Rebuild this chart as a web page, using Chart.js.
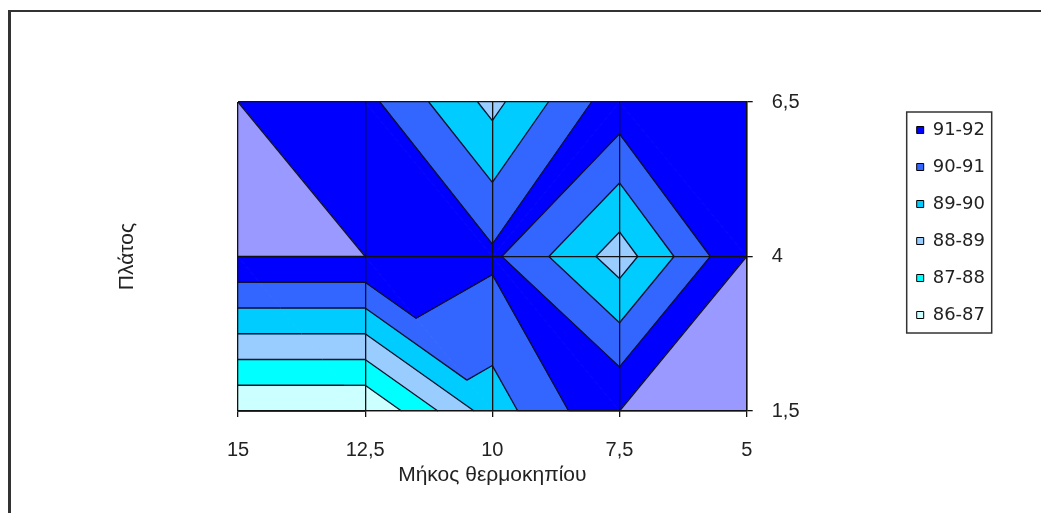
<!DOCTYPE html>
<html>
<head>
<meta charset="utf-8">
<script src="https://cdn.jsdelivr.net/npm/chart.js@4.4.0/dist/chart.umd.min.js"></script>
<style>
  html, body { margin: 0; padding: 0; background: #fff; }
  #wrap { position: relative; width: 1041px; height: 513px; overflow: hidden; }
  #wrap canvas { position: absolute; left: 0; top: 0; }
  #frame { position: absolute; left: 8px; top: 10px; width: 1100px; height: 600px;
           border-left: 3px solid #333; border-top: 2px solid #333; pointer-events: none; }
</style>
</head>
<body>
<div id="wrap">
  <canvas id="contourChart" width="1041" height="513"></canvas>
  <div id="frame"></div>
</div>
<script>
// grid of the surface: Μήκος θερμοκηπίου (x) and Πλάτος (y)
const xValues = [15, 12.5, 10, 7.5, 5];
const yValues = [1.5, 4, 6.5];
// values per row, columns follow xValues
const zAt15 = [86, 86, 89.5, 92, 92];
const zAt40 = [92, 92, 91.2, 88.5, 92];
const zAt65 = [92, 91.3, 88.7, 91.65, 91.8];

// contour bands 86-87 ... 92-93
const levels = [86, 87, 88, 89, 90, 91, 92, 93];
const bandColors = ['#ccffff', '#00ffff', '#99ccff', '#00ccff', '#3366ff', '#0000ff', '#9999ff'];
const legendLabels = ['91-92', '90-91', '89-90', '88-89', '87-88', '86-87'];

const tickFont = { family: "'Liberation Sans Narrow', 'Liberation Sans', Arial, sans-serif", size: 20 };
const titleFont = { family: "'Liberation Sans', Arial, sans-serif", size: 21 };
const legendFont = { family: "'DejaVu Sans', 'Liberation Sans', sans-serif", size: 18 };

function buildTriangles() {
  const rows = [zAt15, zAt40, zAt65];
  const P = (i, j) => [xValues[i], yValues[j], rows[j][i]];
  const tris = [];
  for (let j = 0; j < yValues.length - 1; j++) {
    for (let i = 0; i < xValues.length - 1; i++) {
      const bl = P(i, j), br = P(i + 1, j), tl = P(i, j + 1), tr = P(i + 1, j + 1);
      // split along the diagonal with the higher mean
      if (tl[2] + br[2] >= tr[2] + bl[2]) {
        tris.push([tl, tr, br], [tl, br, bl]);
      } else {
        tris.push([tl, tr, bl], [tr, br, bl]);
      }
    }
  }
  return tris;
}

// keep the part of poly where dir*(z-L) >= 0
function clip(poly, L, dir) {
  const out = [];
  for (let i = 0; i < poly.length; i++) {
    const a = poly[i], b = poly[(i + 1) % poly.length];
    const da = dir * (a[2] - L), db = dir * (b[2] - L);
    if (da >= 0) out.push(a);
    if ((da > 0 && db < 0) || (da < 0 && db > 0)) {
      const t = (L - a[2]) / (b[2] - a[2]);
      out.push([a[0] + t * (b[0] - a[0]), a[1] + t * (b[1] - a[1]), L]);
    }
  }
  return out;
}

function levelSegment(t, L) {
  const pts = [];
  for (let k = 0; k < 3; k++) {
    const a = t[k], b = t[(k + 1) % 3];
    if (a[2] === L) {
      pts.push(a);
    } else if ((a[2] - L) * (b[2] - L) < 0) {
      const s = (L - a[2]) / (b[2] - a[2]);
      pts.push([a[0] + s * (b[0] - a[0]), a[1] + s * (b[1] - a[1])]);
    }
  }
  return pts.length === 2 ? pts : null;
}

const contourPlugin = {
  id: 'contour',
  beforeDatasetsDraw(chart) {
    const { ctx, scales: { x, y } } = chart;
    const px = p => [x.getPixelForValue(p[0]), y.getPixelForValue(p[1])];
    const tris = buildTriangles();
    ctx.save();
    for (let b = 0; b < levels.length - 1; b++) {
      ctx.fillStyle = bandColors[b];
      ctx.strokeStyle = bandColors[b];
      ctx.lineWidth = 1;
      tris.forEach(t => {
        const poly = clip(clip(t, levels[b], 1), levels[b + 1], -1).map(px);
        if (poly.length < 3) return;
        let area = 0;
        poly.forEach((p, i) => {
          const q = poly[(i + 1) % poly.length];
          area += p[0] * q[1] - q[0] * p[1];
        });
        if (Math.abs(area) < 1) return;
        ctx.beginPath();
        poly.forEach((p, i) => i ? ctx.lineTo(p[0], p[1]) : ctx.moveTo(p[0], p[1]));
        ctx.closePath();
        ctx.fill();
        ctx.stroke();
      });
    }
    // contour lines
    ctx.strokeStyle = '#10102a';
    ctx.lineWidth = 1.3;
    levels.forEach(L => {
      tris.forEach(t => {
        const seg = levelSegment(t, L);
        if (!seg) return;
        const a = px(seg[0]), b = px(seg[1]);
        ctx.beginPath();
        ctx.moveTo(a[0], a[1]);
        ctx.lineTo(b[0], b[1]);
        ctx.stroke();
      });
    });
    ctx.restore();
  },
  afterDraw(chart) {
    const hb = chart.legend.legendHitBoxes;
    if (!hb || !hb.length) return;
    const last = hb[hb.length - 1];
    const left = hb[0].left - 10;
    const top = hb[0].top - 9;
    const bottom = last.top + last.height + 9;
    const ctx = chart.ctx;
    ctx.save();
    ctx.strokeStyle = '#333';
    ctx.lineWidth = 1.5;
    ctx.strokeRect(left, top, 85, bottom - top);
    ctx.restore();
  }
};

const ctxContour = document.getElementById('contourChart').getContext('2d');
const contourChart = new Chart(ctxContour, {
  type: 'scatter',
  data: {
    datasets: legendLabels.map((label, i) => ({
      label: label,
      data: [],
      backgroundColor: bandColors[legendLabels.length - 1 - i],
      borderColor: '#000',
      borderWidth: 1,
      xAxisID: 'x',
      yAxisID: 'y'
    }))
  },
  options: {
    responsive: false,
    animation: false,
    events: [],
    layout: { padding: { top: 102, left: 111, right: 46, bottom: 0 } },
    plugins: {
      tooltip: { enabled: false },
      legend: {
        position: 'right',
        align: 'start',
        labels: { boxWidth: 7, boxHeight: 7, padding: 19, color: '#222', font: legendFont }
      }
    },
    scales: {
      x: {
        type: 'linear',
        reverse: true,
        min: 5,
        max: 15,
        afterBuildTicks: s => { s.ticks = xValues.map(v => ({ value: v })); },
        afterFit: s => { s.height = 102; },
        grid: { color: '#111', lineWidth: 1.3, tickLength: 6, z: 1 },
        border: { color: '#111', width: 1.3, z: 1 },
        ticks: {
          padding: 21, color: '#222', font: tickFont, maxRotation: 0, autoSkip: false,
          callback: v => String(v).replace('.', ',')
        },
        title: {
          display: true, text: 'Μήκος θερμοκηπίου', color: '#222', font: titleFont,
          padding: { top: 0, bottom: 25 }
        }
      },
      y: {
        type: 'linear',
        position: 'right',
        min: 1.5,
        max: 6.5,
        afterBuildTicks: s => { s.ticks = yValues.map(v => ({ value: v })); },
        afterFit: s => { s.width = 151; },
        grid: { color: '#111', lineWidth: 1.3, tickLength: 6, z: 1 },
        border: { color: '#111', width: 1.3, z: 1 },
        ticks: {
          padding: 19, color: '#222', font: tickFont,
          callback: v => String(v).replace('.', ',')
        }
      },
      yTitle: {
        type: 'linear',
        position: 'left',
        grid: { display: false },
        border: { display: false },
        ticks: { display: false },
        afterFit: s => { s.width = 127; },
        title: {
          display: true, text: 'Πλάτος', color: '#222', font: titleFont,
          padding: { top: 4, bottom: 0 }
        }
      }
    }
  },
  plugins: [contourPlugin]
});
</script>
</body>
</html>
